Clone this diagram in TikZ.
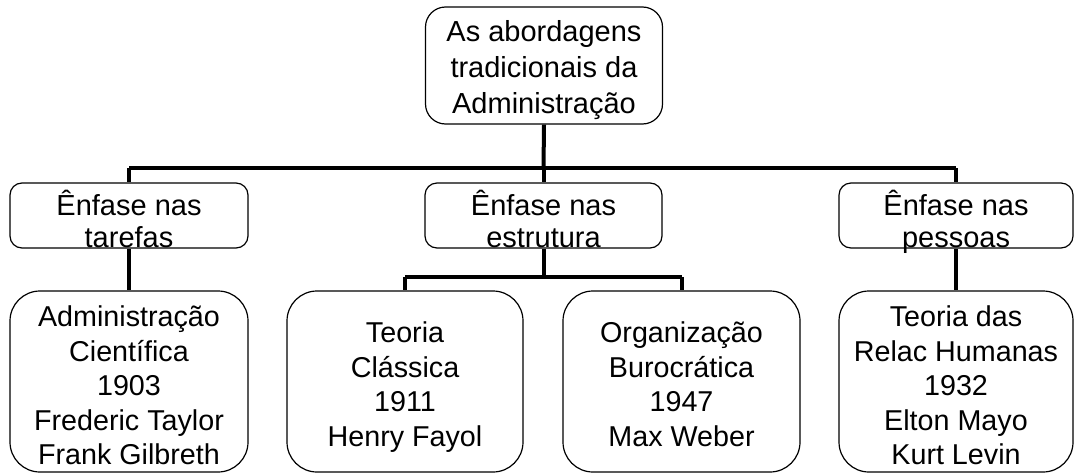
\documentclass[tikz,border=0pt]{standalone}
\usepackage{fontspec}
\setmainfont{Liberation Sans}
\begin{document}
\begin{tikzpicture}[x=1pt,y=-1pt,
  box/.style={draw, line width=1.2pt},
  boxa/.style={box, rounded corners=20pt, minimum width=237pt, minimum height=117pt},
  boxb/.style={box, rounded corners=12pt, minimum height=65pt},
  boxc/.style={box, rounded corners=30pt, minimum height=181pt},
  txta/.style={anchor=north, align=center, inner sep=0pt, font=\fontsize{29}{36}\selectfont},
  txtb/.style={anchor=north, align=center, inner sep=0pt, font=\fontsize{29}{31.5}\selectfont},
  txtc/.style={anchor=north, align=center, inner sep=0pt, font=\fontsize{28.7}{34.5}\selectfont},
  conn/.style={line width=4pt}]
\useasboundingbox (0,0) rectangle (1075,474);
% boxes
\node[boxa] (top) at (544,65.5) {};
\node[boxb, minimum width=238pt] (ta) at (129,215.5) {};
\node[boxb, minimum width=237pt] (es) at (543.5,215.5) {};
\node[boxb, minimum width=234pt] (pe) at (956,215.5) {};
\node[boxc, minimum width=238pt] (ac) at (129,381.5) {};
\node[boxc, minimum width=236pt] (tc) at (405,381.5) {};
\node[boxc, minimum width=237pt] (ob) at (681.5,381.5) {};
\node[boxc, minimum width=234pt] (th) at (956,381.5) {};
% texts
\node[txta] (topt) at (544,16.5) {\strut As abordagens\\\strut tradicionais da\\\strut Administração};
\node[txtb] (tat) at (129,190) {\strut Ênfase nas\\\strut tarefas};
\node[txtb] (est) at (543.5,190) {\strut Ênfase nas\\\strut estrutura};
\node[txtb] (pet) at (956,190) {\strut Ênfase nas\\\strut pessoas};
\node[txtc] (act) at (129,302.5) {\strut Administração\\\strut Científica\\\strut 1903\\\strut Frederic Taylor\\\strut Frank Gilbreth};
\node[txtc] (tct) at (405,318.3) {\strut Teoria\\\strut Clássica\\\strut 1911\\\strut Henry Fayol};
\node[txtc] (obt) at (681.5,318.3) {\strut Organização\\\strut Burocrática\\\strut 1947\\\strut Max Weber};
\node[txtc] (tht) at (956,302.5) {\strut Teoria das\\\strut Relac Humanas\\\strut 1932\\\strut Elton Mayo\\\strut Kurt Levin};
% connectors
\coordinate (hL) at (129,168);
\coordinate (hR) at (956,168);
\coordinate (hM) at (543.5,168);
\coordinate (mL) at (405,277);
\coordinate (mR) at (681.5,277);
\coordinate (mM) at (543.5,277);
\draw[conn] (top.south) -- (hM);
\draw[conn] (hL) -- (hR);
\draw[conn] (hL) -- (ta.north);
\draw[conn] (hM) -- (es.north);
\draw[conn] (hR) -- (pe.north);
\draw[conn] (ta.south) -- (ac.north);
\draw[conn] (pe.south) -- (th.north);
\draw[conn] (es.south) -- (mM);
\draw[conn] (mL) -- (mR);
\draw[conn] (mL) -- (tc.north);
\draw[conn] (mR) -- (ob.north);
\end{tikzpicture}
\end{document}
